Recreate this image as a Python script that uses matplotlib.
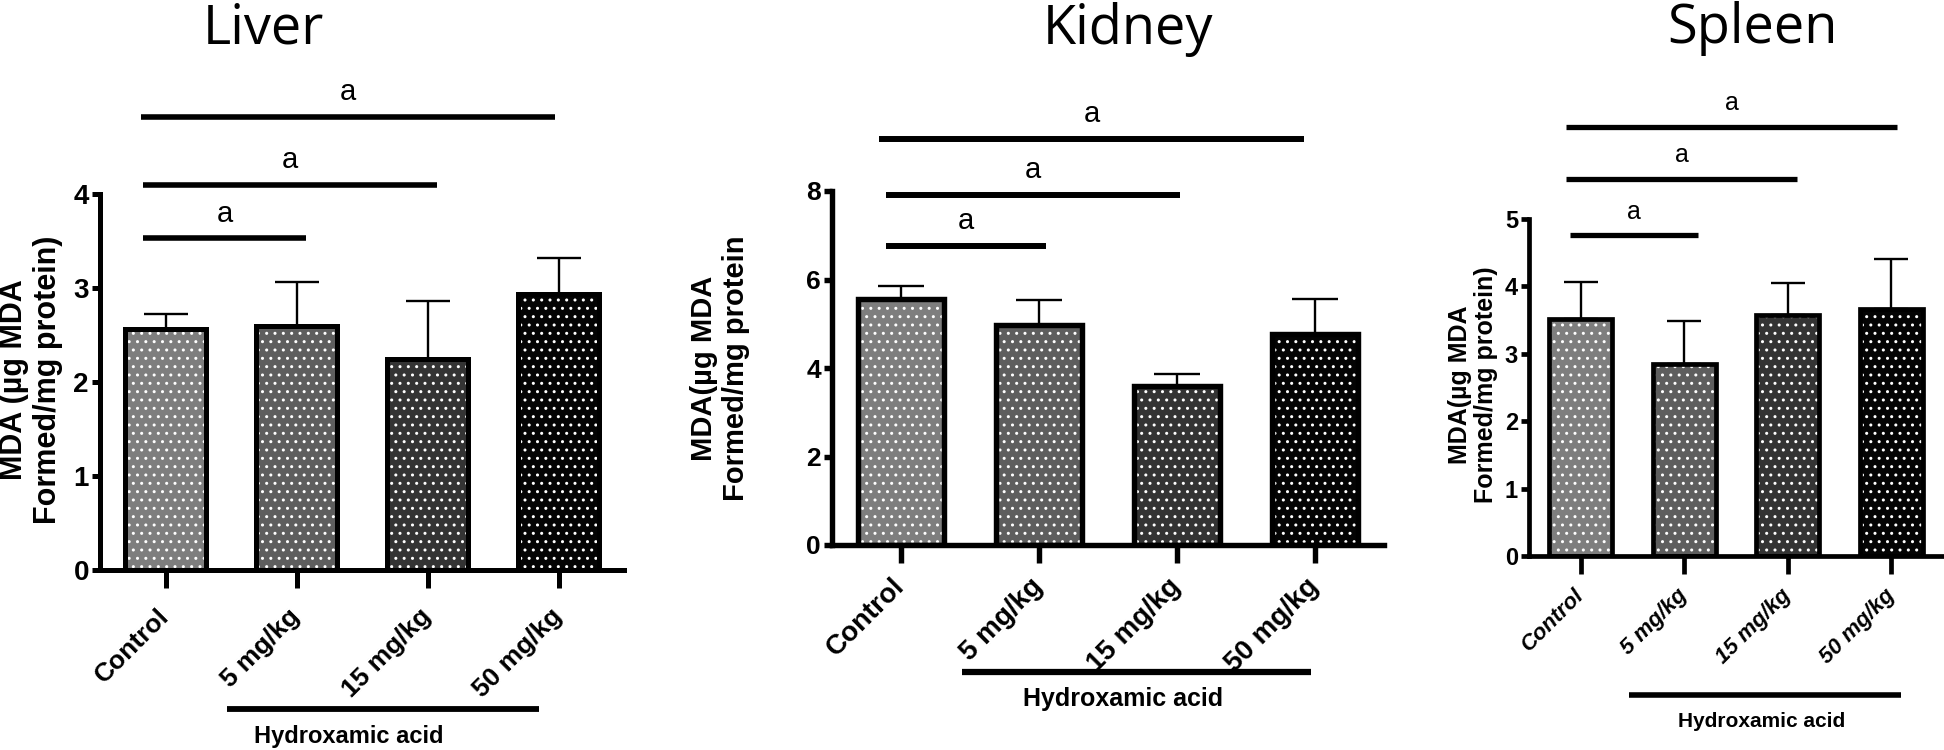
import matplotlib
matplotlib.use("Agg")
import matplotlib.pyplot as plt
import numpy as np

# ---------------- data ----------------
categories = ["Control", "5 mg/kg", "15 mg/kg", "50 mg/kg"]
group_label = "Hydroxamic acid"

liver_mean = [2.56, 2.60, 2.24, 2.94]
liver_sem = [0.16, 0.46, 0.62, 0.38]
kidney_mean = [5.55, 4.98, 3.60, 4.77]
kidney_sem = [0.30, 0.55, 0.26, 0.79]
spleen_mean = [3.51, 2.85, 3.58, 3.67]
spleen_sem = [0.55, 0.64, 0.47, 0.73]

liver_yticks = [0, 1, 2, 3, 4]
kidney_yticks = [0, 2, 4, 6, 8]
spleen_yticks = [0, 1, 2, 3, 4, 5]

# significance comparisons: (from x, to x, height)
liver_sig = [(-0.17, 1.07, 3.53), (-0.17, 2.07, 4.10), (-0.19, 2.97, 4.82)]
kidney_sig = [(-0.11, 1.05, 6.76), (-0.11, 2.02, 7.91), (-0.16, 2.92, 9.18)]
spleen_sig = [(-0.10, 1.13, 4.76), (-0.14, 2.09, 5.60), (-0.14, 3.06, 6.37)]
sig_text = "a"

bar_colors = ["#7e7e7e", "#5e5e5e", "#343434", "#040404"]

# ---------------- figure ----------------
plt.rcParams["font.family"] = ["Liberation Sans", "DejaVu Sans"]
plt.rcParams["hatch.linewidth"] = 1.0

W, H = 1944, 750
fig = plt.figure(figsize=(W / 100, H / 100), dpi=100)


def px_rect(left, top, right, bottom):
    return [left / W, 1 - bottom / H, (right - left) / W, (bottom - top) / H]


panels = [
    dict(title="Liver", mean=liver_mean, sem=liver_sem, yticks=liver_yticks, sig=liver_sig,
         box=(100, 194, 624, 570), title_x=263, title_base=43,
         ylabel="MDA (µg MDA\nFormed/mg protein)", ylabel_xy=(31, 380), ylabel_size=22,
         tick_size=20, xtick_size=19, xpad=18, italic=False, width=0.62, lw=3.6,
         capsize=16, sig_size=21, group=(0.47, 2.85, 709, 1.40, 743), group_size=17),
    dict(title="Kidney", mean=kidney_mean, sem=kidney_sem, yticks=kidney_yticks, sig=kidney_sig,
         box=(832, 191, 1384, 545), title_x=1128, title_base=44,
         ylabel="MDA(µg MDA\nFormed/mg protein", ylabel_xy=(720, 368), ylabel_size=21,
         tick_size=19, xtick_size=20, xpad=14, italic=False, width=0.63, lw=3.9,
         capsize=16.5, sig_size=21, group=(0.44, 2.97, 672, 1.61, 706), group_size=18),
    dict(title="Spleen", mean=spleen_mean, sem=spleen_sem, yticks=spleen_yticks, sig=spleen_sig,
         box=(1529, 219, 1943, 556), title_x=1752, title_base=43,
         ylabel="MDA(µg MDA\nFormed/mg protein)", ylabel_xy=(1473, 385), ylabel_size=18,
         tick_size=17, xtick_size=16, xpad=13, italic=True, width=0.61, lw=3.4,
         capsize=12, sig_size=18, group=(0.47, 3.09, 695, 1.75, 727), group_size=15),
]

for p in panels:
    left, top, right, bottom = p["box"]
    ax = fig.add_axes(px_rect(left, top, right, bottom))
    height_px = bottom - top
    x = np.arange(len(categories))

    ax.bar(x, p["mean"], width=p["width"], color=bar_colors, edgecolor="white",
           hatch="..", linewidth=0, zorder=2)
    ax.bar(x, p["mean"], width=p["width"], fill=False, edgecolor="black",
           linewidth=p["lw"], zorder=3)
    ax.errorbar(x, p["mean"], yerr=[np.zeros(len(x)), p["sem"]], fmt="none",
                ecolor="black", elinewidth=1.7, capsize=p["capsize"], capthick=1.7,
                zorder=1)

    ax.set_xlim(-0.5, 3.5)
    ax.set_ylim(0, p["yticks"][-1])
    ax.set_yticks(p["yticks"])
    ax.set_xticks(x)
    ax.set_xticklabels(categories)
    for s in ["top", "right"]:
        ax.spines[s].set_visible(False)
    for s in ["left", "bottom"]:
        ax.spines[s].set_linewidth(p["lw"])
    ax.tick_params(axis="y", length=6, width=p["lw"], pad=2, labelsize=p["tick_size"])
    ax.tick_params(axis="x", length=13, width=p["lw"], pad=p["xpad"],
                   labelsize=p["xtick_size"])
    for lab in ax.get_yticklabels():
        lab.set_fontweight("bold")
    for lab in ax.get_xticklabels():
        lab.set_rotation(45)
        lab.set_ha("right")
        lab.set_va("center")
        lab.set_rotation_mode("anchor")
        lab.set_fontweight("bold")
        if p["italic"]:
            lab.set_fontstyle("italic")

    # significance lines
    for (x0, x1, h) in p["sig"]:
        ax.plot([x0, x1], [h, h], color="black", lw=p["lw"] + 0.4,
                solid_capstyle="butt", clip_on=False)
        ax.annotate(sig_text, xy=((x0 + x1) / 2, h), xytext=(0, 12),
                    textcoords="offset points", ha="center", va="baseline",
                    fontsize=p["sig_size"], annotation_clip=False)

    # group bracket
    gx0, gx1, gy_line, gtx, gy_text = p["group"]
    yl = (bottom - gy_line) / height_px
    ax.plot([gx0, gx1], [yl, yl], transform=ax.get_xaxis_transform(), color="black",
            lw=p["lw"] + 0.6, solid_capstyle="butt", clip_on=False)
    ax.text(gtx, (bottom - gy_text) / height_px, group_label,
            transform=ax.get_xaxis_transform(), ha="center", va="baseline",
            fontsize=p["group_size"], fontweight="bold")

    # title
    fig.text(p["title_x"] / W, 1 - p["title_base"] / H, p["title"], ha="center",
             va="baseline", fontsize=39, family=["Open Sans", "DejaVu Sans"])

    # y label
    fig.text(p["ylabel_xy"][0] / W, 1 - p["ylabel_xy"][1] / H, p["ylabel"],
             rotation=90, ha="center", va="center", multialignment="center",
             fontsize=p["ylabel_size"], fontweight="bold", linespacing=1.15)

fig.savefig("out.png", dpi=100)
